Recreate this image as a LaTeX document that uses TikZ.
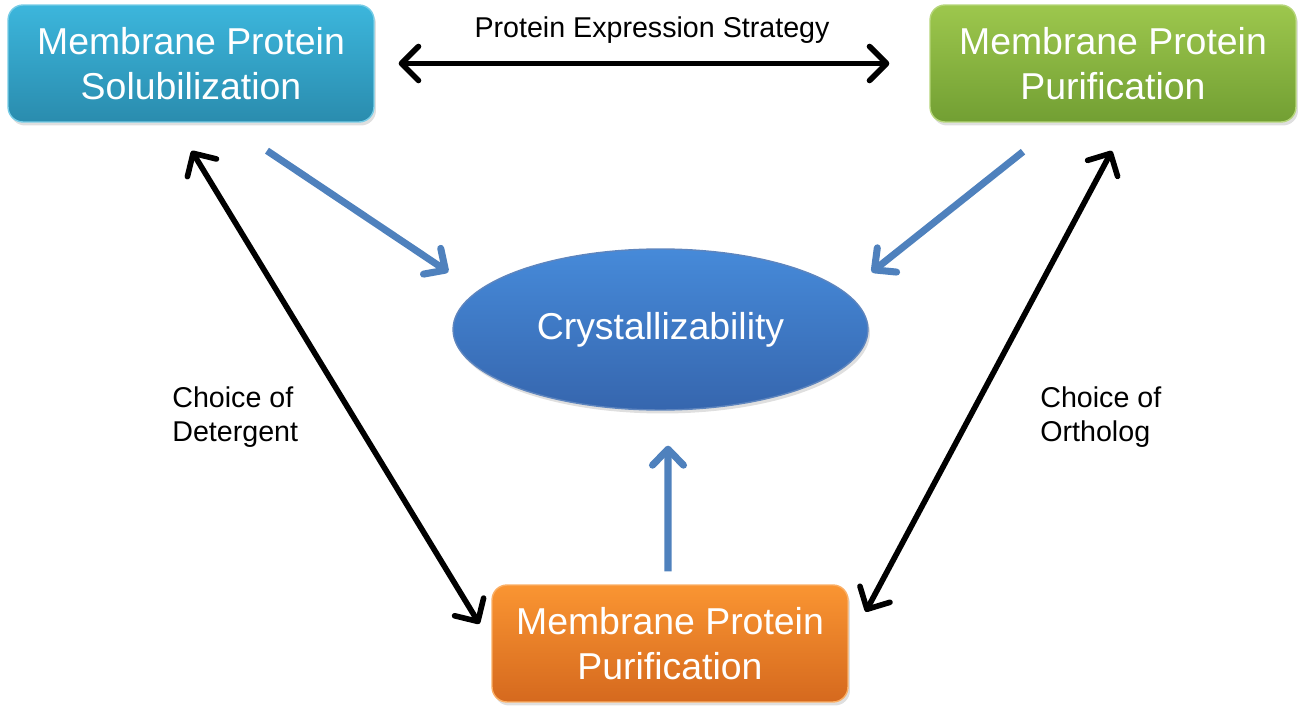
\documentclass[tikz,border=0pt]{standalone}
\usepackage{fontspec}
\setmainfont{Liberation Sans}
\usetikzlibrary{arrows.meta, shapes.geometric, shadows, positioning, calc}

\definecolor{solTop}{HTML}{3CB6DC}
\definecolor{solBot}{HTML}{2A8CAE}
\definecolor{purTop}{HTML}{9DC74D}
\definecolor{purBot}{HTML}{729F33}
\definecolor{botTop}{HTML}{FA9532}
\definecolor{botBot}{HTML}{D5691E}
\definecolor{cryTop}{HTML}{468AD9}
\definecolor{cryBot}{HTML}{3666AE}
\definecolor{feedBlue}{HTML}{4F81BD}

\tikzset{
	stage/.style={rectangle, rounded corners=0.3cm, minimum width=7.32cm, minimum height=2.34cm,
		align=center, text=white, line width=0.8pt, font=\fontsize{21.3}{25.6}\selectfont,
		drop shadow={opacity=0.25, shadow xshift=0.04cm, shadow yshift=-0.07cm}},
	note/.style={inner sep=0pt, align=left, font=\fontsize{16.3}{19.3}\selectfont},
	link/.style={<->, >={Straight Barb[round, length=0.34cm, width=0.68cm]}, line width=3.2pt},
	feed/.style={->, >={Straight Barb[round, length=0.32cm, width=0.62cm]}, line width=4pt, color=feedBlue}
}

\begin{document}
\begin{tikzpicture}[x=0.02cm, y=-0.02cm]

	\useasboundingbox (0,0) rectangle (1306,723);

	\node[stage, top color=solTop, bottom color=solBot, draw=solTop!70!white] (sol) at (191,63.5)
		{Membrane Protein\\Solubilization};
	\node[stage, top color=purTop, bottom color=purBot, draw=purTop!75!white] (pur) at (1113,63.5)
		{Membrane Protein\\Purification};
	\node[stage, minimum width=7.12cm, top color=botTop, bottom color=botBot, draw=botTop!75!white] (bot) at (670,643.5)
		{Membrane Protein\\Purification};
	\node[ellipse, minimum width=8.3cm, minimum height=3.22cm, inner sep=0pt, text=white,
		top color=cryTop, bottom color=cryBot, draw=cryBot!80!white, line width=0.8pt,
		font=\fontsize{21.3}{25.6}\selectfont,
		drop shadow={opacity=0.25, shadow xshift=0.04cm, shadow yshift=-0.07cm}] (cry) at (660.5,329.5)
		{Crystallizability};

	\node[note, anchor=north west] (det) at (172,386) {Choice of\\Detergent};
	\node[note, anchor=north west] (ort) at (1040,386) {Choice of\\Ortholog};

	\path[link] (sol.east) edge[shorten <=0.48cm, shorten >=0.8cm]
		node[note, above=0.34cm] (strat) {Protein Expression Strategy} (pur.west);
	\path[link] ([xshift=-0.33cm]sol.south) edge[shorten <=0.66cm, shorten >=0.46cm] (bot.west);
	\path[link] ([xshift=0.28cm]pur.south) edge[shorten <=0.64cm, shorten >=0.72cm] (bot.east);

	\path[feed] ([xshift=1.52cm, yshift=-0.56cm]sol.south) edge ([xshift=-1.3cm]cry.north west);
	\path[feed] ([xshift=-1.8cm, yshift=-0.58cm]pur.south) edge ([xshift=1.28cm]cry.north east);
	\path[feed] ([xshift=-0.04cm, yshift=0.26cm]bot.north) edge[shorten >=0.7cm] ([xshift=0.15cm]cry.south);
\end{tikzpicture}
\end{document}
